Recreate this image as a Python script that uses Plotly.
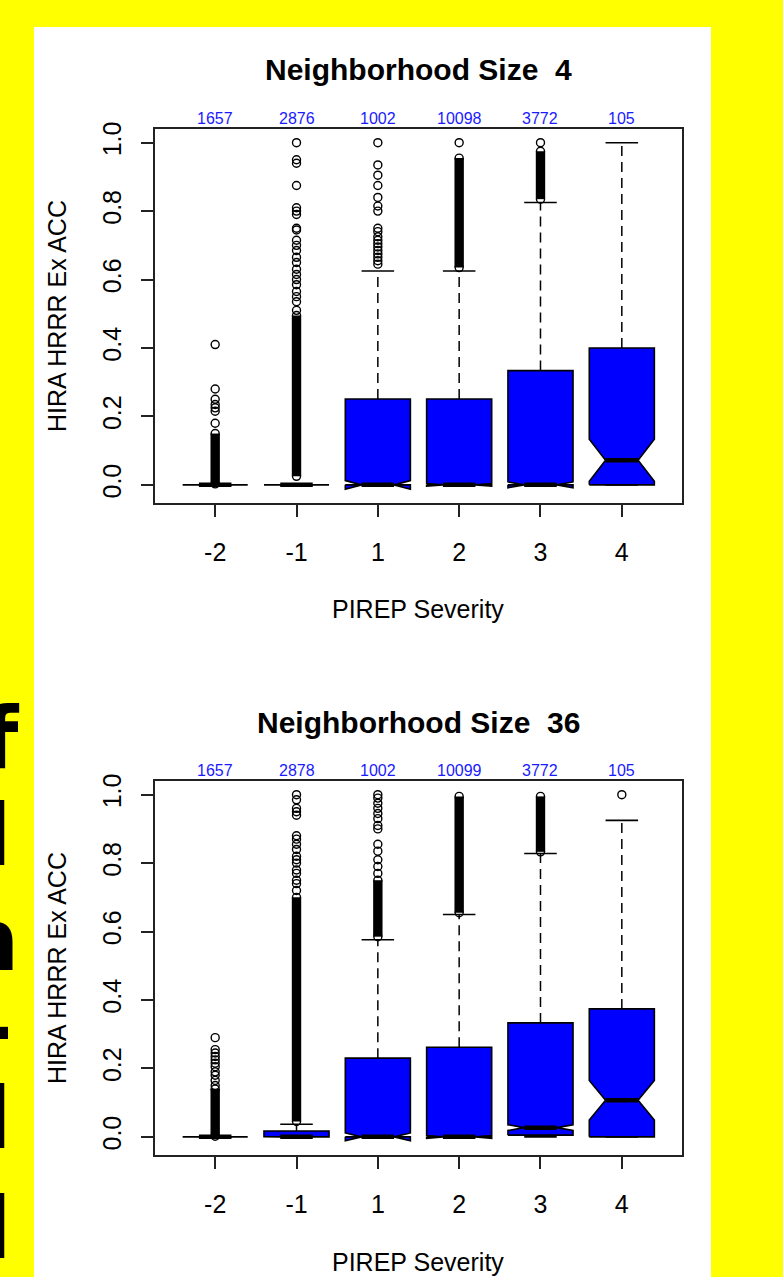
import math
import plotly.graph_objects as go

W, H = 783, 1277

# ---------------- data ----------------
categories = ["-2", "-1", "1", "2", "3", "4"]
titles = ["Neighborhood Size  4", "Neighborhood Size  36"]

# Panel A: Neighborhood Size 4
counts_4 = [1657, 2876, 1002, 10098, 3772, 105]
q1_4 = [0.0, 0.0, 0.0, 0.0, 0.0, 0.0]
med_4 = [0.0, 0.0, 0.0, 0.0, 0.0, 0.072]
q3_4 = [0.0, 0.0, 0.251, 0.251, 0.334, 0.40]
lowwhisk_4 = [0.0, 0.0, 0.0, 0.0, 0.0, 0.0]
upwhisk_4 = [0.0, 0.0, 0.625, 0.625, 0.825, 1.0]
outliers_4 = [
    [0.41, 0.28, 0.25, 0.235, 0.225, 0.215, 0.18],
    [1.0, 0.95, 0.94, 0.875, 0.81, 0.80, 0.79, 0.75, 0.745, 0.715, 0.70, 0.685,
     0.665, 0.65, 0.63, 0.615, 0.60, 0.585, 0.565, 0.55, 0.535, 0.51],
    [1.0, 0.935, 0.905, 0.875, 0.84, 0.815, 0.80, 0.75, 0.74, 0.725, 0.715,
     0.705, 0.695, 0.685, 0.675, 0.665, 0.655, 0.645],
    [1.0],
    [1.0],
    [],
]
# ranges where outliers are so dense they merge into a solid column
dense_lo_4 = [0.003, 0.025, None, 0.635, 0.835, None]
dense_hi_4 = [0.15, 0.495, None, 0.955, 0.975, None]

# Panel B: Neighborhood Size 36
counts_36 = [1657, 2878, 1002, 10099, 3772, 105]
q1_36 = [0.0, 0.0, 0.0, 0.0, 0.005, 0.0]
med_36 = [0.0, 0.0, 0.0, 0.0, 0.027, 0.107]
q3_36 = [0.0, 0.017, 0.230, 0.262, 0.333, 0.374]
lowwhisk_36 = [0.0, 0.0, 0.0, 0.0, 0.0, 0.0]
upwhisk_36 = [0.0, 0.037, 0.576, 0.650, 0.828, 0.925]
outliers_36 = [
    [0.29, 0.255, 0.245, 0.235, 0.225, 0.215, 0.205, 0.19, 0.18, 0.165, 0.15],
    [1.0, 0.985, 0.96, 0.95, 0.94, 0.88, 0.87, 0.855, 0.84, 0.82, 0.81, 0.80,
     0.78, 0.77, 0.75, 0.74, 0.72],
    [1.0, 0.99, 0.975, 0.96, 0.945, 0.93, 0.91, 0.90, 0.855, 0.835, 0.81,
     0.79, 0.77],
    [],
    [],
    [1.0],
]
dense_lo_36 = [0.002, 0.045, 0.585, 0.655, 0.833, None]
dense_hi_36 = [0.14, 0.70, 0.75, 0.995, 0.995, None]

ytick_vals = [0.0, 0.2, 0.4, 0.6, 0.8, 1.0]
ytick_text = ["0.0", "0.2", "0.4", "0.6", "0.8", "1.0"]

side_letters = ["f", "l", "n", "-", "l", "l"]

panels = [
    dict(title=titles[0], n=counts_4, q1=q1_4, med=med_4, q3=q3_4,
         lo=lowwhisk_4, hi=upwhisk_4, out=outliers_4,
         dlo=dense_lo_4, dhi=dense_hi_4),
    dict(title=titles[1], n=counts_36, q1=q1_36, med=med_36, q3=q3_36,
         lo=lowwhisk_36, hi=upwhisk_36, out=outliers_36,
         dlo=dense_lo_36, dhi=dense_hi_36),
]

# ---------------- layout helpers (pixel -> paper) ----------------
def px(x):
    return x / W


def py(y):
    return 1 - y / H


FONT = "Liberation Sans, Arial, sans-serif"
BOXBLUE = "#0000FF"
HALF = 0.4      # half box width (boxwex 0.8)
NF = 0.5        # notch fraction
SW = 0.5        # staple fraction

fig = go.Figure()

panel_geo = [
    dict(ydom=[py(503), py(129)], title_y=70, counts_y=118, xlab_y=609, ylab_y=316),
    dict(ydom=[py(1155), py(781)], title_y=722, counts_y=770, xlab_y=1262, ylab_y=968),
]

annotations = []
for k, P in enumerate(panels):
    xa = "x" if k == 0 else "x2"
    ya = "y" if k == 0 else "y2"
    xs = list(range(1, len(categories) + 1))

    poly_x, poly_y = [], []
    med_x, med_y = [], []
    wh_x, wh_y = [], []
    st_x, st_y = [], []
    ox, oy = [], []
    dx, dy = [], []
    for i, c in enumerate(xs):
        q1, m, q3 = P["q1"][i], P["med"][i], P["q3"][i]
        notch = 1.58 * (q3 - q1) / math.sqrt(P["n"][i])
        fx = [-1, 1, 1, NF, 1, 1, -1, -1, -NF, -1, -1]
        fy = [q1, q1, m - notch, m, m + notch, q3, q3, m + notch, m, m - notch, q1]
        poly_x += [c + HALF * f for f in fx] + [None]
        poly_y += fy + [None]
        med_x += [c - HALF * NF, c + HALF * NF, None]
        med_y += [m, m, None]
        wh_x += [c, c, None, c, c, None]
        wh_y += [q3, P["hi"][i], None, q1, P["lo"][i], None]
        st_x += [c - HALF * SW, c + HALF * SW, None, c - HALF * SW, c + HALF * SW, None]
        st_y += [P["hi"][i], P["hi"][i], None, P["lo"][i], P["lo"][i], None]
        for v in P["out"][i]:
            ox.append(c)
            oy.append(v)
        if P["dlo"][i] is not None:
            dx += [c, c, None]
            dy += [P["dlo"][i], P["dhi"][i], None]

    fig.add_trace(go.Scatter(x=wh_x, y=wh_y, xaxis=xa, yaxis=ya, mode="lines",
                             line=dict(color="black", width=1.5, dash="10px,6px"),
                             hoverinfo="skip", showlegend=False))
    fig.add_trace(go.Scatter(x=st_x, y=st_y, xaxis=xa, yaxis=ya, mode="lines",
                             line=dict(color="black", width=1.6),
                             hoverinfo="skip", showlegend=False))
    fig.add_trace(go.Scatter(x=poly_x, y=poly_y, xaxis=xa, yaxis=ya, mode="lines",
                             fill="toself", fillcolor=BOXBLUE,
                             line=dict(color="black", width=1.6),
                             hoverinfo="skip", showlegend=False))
    fig.add_trace(go.Scatter(x=med_x, y=med_y, xaxis=xa, yaxis=ya, mode="lines",
                             line=dict(color="black", width=4.5),
                             hoverinfo="skip", showlegend=False))
    fig.add_trace(go.Scatter(x=dx, y=dy, xaxis=xa, yaxis=ya, mode="lines+markers",
                             line=dict(color="black", width=9.4),
                             marker=dict(symbol="circle-open", size=8, color="black",
                                         line=dict(width=1.4, color="black")),
                             hoverinfo="skip", showlegend=False))
    fig.add_trace(go.Scatter(x=ox, y=oy, xaxis=xa, yaxis=ya, mode="markers",
                             marker=dict(symbol="circle-open", size=8, color="black",
                                         line=dict(width=1.4, color="black")),
                             hoverinfo="skip", showlegend=False))

    g = panel_geo[k]
    annotations.append(dict(text="<b>" + P["title"] + "</b>", x=px(418), y=py(g["title_y"]),
                            xref="paper", yref="paper", showarrow=False,
                            font=dict(family=FONT, size=30, color="black"),
                            xanchor="center", yanchor="middle"))
    for i, c in enumerate(xs):
        annotations.append(dict(text=str(P["n"][i]), x=c, y=py(g["counts_y"]),
                                xref=xa, yref="paper", showarrow=False,
                                font=dict(family=FONT, size=16, color="#1a1aff"),
                                xanchor="center", yanchor="middle"))
    annotations.append(dict(text="PIREP Severity", x=px(418), y=py(g["xlab_y"]),
                            xref="paper", yref="paper", showarrow=False,
                            font=dict(family=FONT, size=25, color="black"),
                            xanchor="center", yanchor="middle"))
    annotations.append(dict(text="HIRA HRRR Ex ACC", x=px(57), y=py(g["ylab_y"]),
                            xref="paper", yref="paper", showarrow=False, textangle=-90,
                            font=dict(family=FONT, size=25, color="black"),
                            xanchor="center", yanchor="middle"))

# cut-off slide letters on the far left
letter_y = [738, 835, 940, 1028, 1118, 1228]
letter_right = [22, 13, 21, 15, 13, 13]
for t, yy, xr in zip(side_letters, letter_y, letter_right):
    annotations.append(dict(text="<b>" + t + "</b>", x=px(xr), y=py(yy),
                            xref="paper", yref="paper", showarrow=False,
                            font=dict(family="DejaVu Sans, sans-serif", size=86, color="black"),
                            xanchor="right", yanchor="middle"))

axis_common = dict(showline=True, linecolor="#222222", linewidth=1.5, mirror=True,
                   ticks="outside", ticklen=12, tickwidth=1.5, tickcolor="#222222",
                   showgrid=False, zeroline=False, automargin=False,
                   tickfont=dict(family=FONT, size=25, color="black"))

xdom = [px(155), px(682)]
layout = dict(
    width=W, height=H,
    margin=dict(l=0, r=0, t=0, b=0, pad=0),
    paper_bgcolor="#FFFF00",
    plot_bgcolor="white",
    showlegend=False,
    annotations=annotations,
    shapes=[dict(type="rect", xref="paper", yref="paper",
                 x0=px(34), x1=px(711), y0=-0.01, y1=py(27),
                 fillcolor="white", line=dict(width=0), layer="below")],
)
for k in range(2):
    sx = "" if k == 0 else "2"
    layout["xaxis" + sx] = dict(axis_common, domain=xdom, range=[0.26, 6.74],
                                tickvals=list(range(1, 7)), ticktext=categories,
                                anchor="y" + sx, ticklabelstandoff=14)
    layout["yaxis" + sx] = dict(axis_common, domain=panel_geo[k]["ydom"],
                                range=[-0.053, 1.04], tickvals=ytick_vals,
                                ticktext=ytick_text, tickangle=-90,
                                anchor="x" + sx, ticklabelstandoff=10)

fig.update_layout(**layout)
fig.write_html("out.html", config={"displayModeBar": False},
               post_script="document.body.style.margin='0';document.body.style.overflow='hidden';")
